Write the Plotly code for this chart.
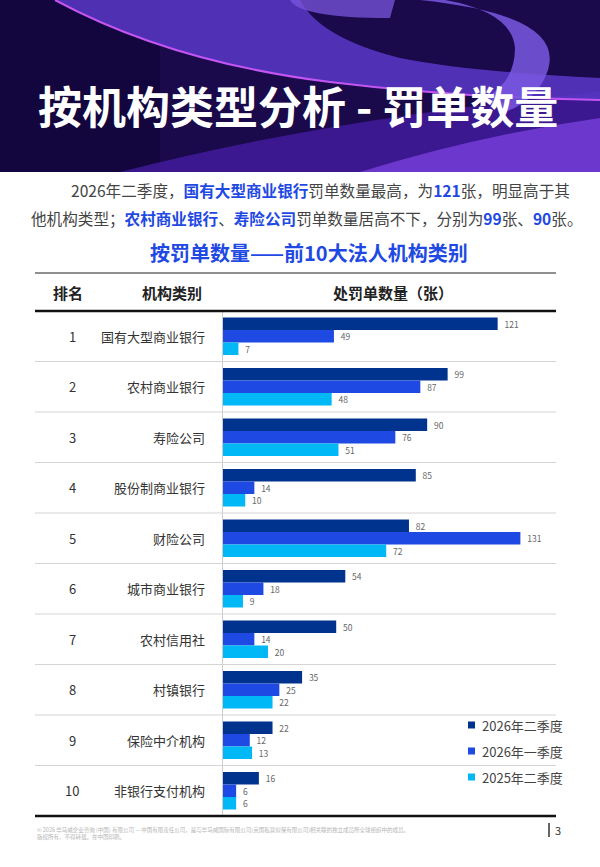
import plotly.graph_objects as go

# data
ranks = [1, 2, 3, 4, 5, 6, 7, 8, 9, 10]
categories = ["国有大型商业银行", "农村商业银行", "寿险公司", "股份制商业银行", "财险公司",
              "城市商业银行", "农村信用社", "村镇银行", "保险中介机构", "非银行支付机构"]
q2_2026 = [121, 99, 90, 85, 82, 54, 50, 35, 22, 16]
q1_2026 = [49, 87, 76, 14, 131, 18, 14, 25, 12, 6]
q2_2025 = [7, 48, 51, 10, 72, 9, 20, 22, 13, 6]
series_names = ["2026年二季度", "2026年一季度", "2025年二季度"]
series_colors = ["#00338D", "#1E49E2", "#00B8F5"]

W, H = 600, 867
FONT = "Noto Sans CJK SC"
BLUE = "#1E49E2"


def px(x):
    return x / W


def py(y):
    return 1 - y / H


def path(points, close=True):
    # points: list of (cmd, coords) in pixel space
    out = []
    for cmd, pts in points:
        s = cmd + " " + " ".join(f"{px(x):.4f},{py(y):.4f}" for x, y in pts)
        out.append(s)
    return " ".join(out) + (" Z" if close else "")


def note(x, y, text, size, color="#333333", xanchor="center", yref="paper", **kw):
    return dict(x=px(x), y=py(y) if yref == "paper" else y, xref="paper", yref=yref,
                xanchor=xanchor, yanchor="middle", showarrow=False, text=text,
                font=dict(size=size, color=color, family=FONT), **kw)


fig = go.Figure()

for name, vals, col in zip(series_names, [q2_2026, q1_2026, q2_2025], series_colors):
    fig.add_trace(go.Bar(
        y=ranks, x=vals, name=name, orientation="h",
        marker=dict(color=col, line=dict(width=0)),
        text=vals, texttemplate="  %{text}", textposition="outside",
        textfont=dict(size=8.5, color="#666666", family=FONT),
        constraintext="none", cliponaxis=False, showlegend=False,
        hoverinfo="skip",
    ))

x0 = 222.5
scale = 2.274
fig.update_xaxes(domain=[px(x0), 1], range=[0, (W - x0) / scale], visible=False, fixedrange=True)
fig.update_yaxes(domain=[py(816), py(311)], range=[10.5, 0.5], showticklabels=False,
                 showgrid=False, zeroline=False, showline=True, linecolor="#cccccc",
                 linewidth=1, ticks="", fixedrange=True)

shapes = []
ann = []

# ---- header background ----
shapes.append(dict(type="rect", xref="paper", yref="paper", x0=0, x1=1, y0=py(172), y1=1,
                   fillcolor="#1a0a4c", line=dict(width=0), layer="below"))
shapes.append(dict(type="rect", xref="paper", yref="paper", x0=0, x1=px(160), y0=py(172), y1=1,
                   fillcolor="#0e0433", opacity=0.55, line=dict(width=0), layer="below"))
shapes.append(dict(type="path", xref="paper", yref="paper", layer="below",
                   path=path([("M", [(120, 172)]), ("Q", [(330, 118), (600, 92)]), ("L", [(600, 172)])]),
                   fillcolor="#5a24c8", opacity=0.55, line=dict(width=0)))
shapes.append(dict(type="path", xref="paper", yref="paper", layer="below",
                   path=path([("M", [(360, 172)]), ("Q", [(480, 135), (600, 118)]), ("L", [(600, 172)])]),
                   fillcolor="#8a4cf5", opacity=0.6, line=dict(width=0)))
# swoosh band
shapes.append(dict(type="path", xref="paper", yref="paper", layer="below",
                   path=path([("M", [(55, 0)]), ("Q", [(170, 62), (330, 82)]), ("Q", [(460, 98), (600, 100)]),
                              ("L", [(600, 78)]), ("Q", [(470, 72), (400, 58)]), ("Q", [(320, 38), (300, 0)])]),
                   fillcolor="#5b38c8", opacity=0.85, line=dict(width=0)))
shapes.append(dict(type="path", xref="paper", yref="paper", layer="below",
                   path=path([("M", [(55, 0)]), ("Q", [(170, 62), (330, 82)]), ("Q", [(460, 98), (600, 100)])], close=False),
                   line=dict(color="#c455f2", width=2)))
# dark step block
shapes.append(dict(type="path", xref="paper", yref="paper", layer="below",
                   path=path([("M", [(300, 28)]), ("L", [(380, 22), (420, 20), (410, 80), (310, 72)])]),
                   fillcolor="#1c0c55", opacity=0.9, line=dict(width=0)))
# ring on the right
shapes.append(dict(type="path", xref="paper", yref="paper", layer="below",
                   path=path([("M", [(420, 0)]), ("Q", [(565, 15), (548, 70)]), ("Q", [(538, 100), (505, 112)]),
                              ("L", [(480, 100)]), ("Q", [(515, 85), (515, 48)]), ("Q", [(512, 12), (445, 0)])]),
                   fillcolor="#7a58e2", opacity=0.85, line=dict(width=0)))
shapes.append(dict(type="path", xref="paper", yref="paper", layer="below",
                   path=path([("M", [(290, 0)]), ("Q", [(300, 18), (390, 18)]), ("L", [(395, 0)])]),
                   fillcolor="#7a55de", opacity=0.75, line=dict(width=0)))

ann.append(note(298, 105, "<b>按机构类型分析 - 罚单数量</b>", 44, "white"))

# ---- paragraph ----
hl = "<b><span style='color:%s'>{}</span></b>" % BLUE
line1 = "2026年二季度，" + hl.format("国有大型商业银行") + "罚单数量最高，为" + hl.format("121") + "张，明显高于其"
line2 = "他机构类型；" + hl.format("农村商业银行") + "、" + hl.format("寿险公司") + "罚单数量居高不下，分别为" \
        + hl.format("99") + "张、" + hl.format("90") + "张。"
ann.append(note(69, 190, line1, 15.6, "#444444", xanchor="left"))
ann.append(note(29, 218, line2, 15.6, "#444444", xanchor="left"))
ann.append(note(309, 252, "<b>按罚单数量——前10大法人机构类别</b>", 20, BLUE))

# ---- table header ----
shapes.append(dict(type="line", xref="paper", yref="paper", x0=px(35), x1=px(556), y0=py(273), y1=py(273),
                   line=dict(color="#222222", width=1.2)))
for txt, xc in [("排名", 68), ("机构类别", 172), ("处罚单数量（张）", 393)]:
    ann.append(note(xc, 292, f"<b>{txt}</b>", 15, "#222222"))
shapes.append(dict(type="line", xref="paper", yref="paper", x0=px(35), x1=px(556), y0=py(311), y1=py(311),
                   line=dict(color="#111111", width=2.5)))
shapes.append(dict(type="line", xref="paper", yref="paper", x0=px(35), x1=px(556), y0=py(816), y1=py(816),
                   line=dict(color="#111111", width=2.5)))
for r in ranks[:-1]:
    shapes.append(dict(type="line", xref="paper", yref="y", x0=px(35), x1=px(556), y0=r + 0.5, y1=r + 0.5,
                       line=dict(color="#d4d4d4", width=1)))

for r, c in zip(ranks, categories):
    ann.append(note(72, r, str(r), 13, yref="y"))
    ann.append(note(207, r, c, 13, xanchor="right", yref="y"))

# ---- legend ----
for i, (name, col) in enumerate(zip(series_names, series_colors)):
    yc = 725 + 26 * i
    shapes.append(dict(type="rect", xref="paper", yref="paper", x0=px(468), x1=px(475),
                       y0=py(yc + 3.5), y1=py(yc - 3.5), fillcolor=col, line=dict(width=0)))
    ann.append(note(480, yc, name, 13, "#444444", xanchor="left"))

# ---- footer ----
ann.append(note(35, 833,
                "© 2026 毕马威企业咨询 (中国) 有限公司 — 中国有限责任公司，是与毕马威国际有限公司(英国私营担保有限公司)相关联的独立成员所全球组织中的成员。"
                "<br>版权所有，不得转载。在中国印刷。",
                5.5, "#b5b5b5", xanchor="left", align="left"))
shapes.append(dict(type="line", xref="paper", yref="paper", x0=px(549), x1=px(549), y0=py(823), y1=py(837),
                   line=dict(color="#333333", width=1.5)))
ann.append(note(553, 830, "3", 11, xanchor="left"))

fig.update_layout(
    width=W, height=H, margin=dict(l=0, r=0, t=0, b=0),
    paper_bgcolor="white", plot_bgcolor="rgba(0,0,0,0)",
    barmode="group", bargap=0.26, bargroupgap=0,
    shapes=shapes, annotations=ann, showlegend=False,
    font=dict(family=FONT),
)

fig.write_html("out.html", config={"displayModeBar": False},
               post_script="document.body.style.margin='0';")
